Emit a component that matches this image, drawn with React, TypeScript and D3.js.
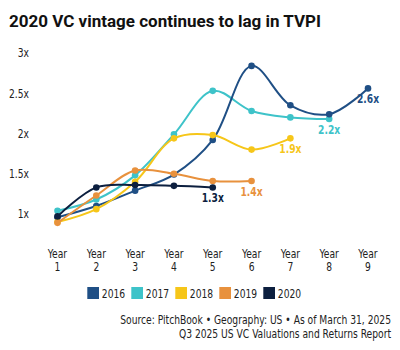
import React from 'react';
import * as d3 from 'd3';

const years = [1, 2, 3, 4, 5, 6, 7, 8, 9];
const yTicks = [1, 1.5, 2, 2.5, 3];
const vintages = ['2016', '2017', '2018', '2019', '2020'];
const colors = ['#1f4f85', '#3ec3c9', '#f6c619', '#e8913d', '#0c1f3f'];

const tvpi2016 = [0.96, 1.1, 1.29, 1.49, 1.92, 2.84, 2.35, 2.24, 2.56];
const tvpi2017 = [1.04, 1.18, 1.48, 1.99, 2.53, 2.28, 2.2, 2.18];
const tvpi2018 = [0.9, 1.06, 1.4, 1.94, 1.98, 1.8, 1.94];
const tvpi2019 = [0.89, 1.23, 1.54, 1.5, 1.41, 1.41];
const tvpi2020 = [0.97, 1.33, 1.36, 1.35, 1.33];
const endLabels = ['2.6x', '2.2x', '1.9x', '1.4x', '1.3x'];

const series = [tvpi2016, tvpi2017, tvpi2018, tvpi2019, tvpi2020];

const condensed = '"DejaVu Sans Condensed", "DejaVu Sans", sans-serif';

// narrow text: squeeze DejaVu Condensed a bit more to get close to the original's condensed face
function NText(props: any) {
	const { x, y, anchor = 'start', children, ...rest } = props;
	return (
		<g transform={`translate(${x},${y}) scale(0.85,1)`}>
			<text textAnchor={anchor} fontFamily={condensed} fontSize={12} fill="#222" {...rest}>
				{children}
			</text>
		</g>
	);
}

export default function App() {
	const width = 400;
	const height = 350;

	const x = d3.scalePoint<number>().domain(years).range([57.5, 368]);
	const y = d3.scaleLinear().domain([1, 3]).range([214, 53]);

	const line = d3
		.line<number>()
		.x((d, i) => x(years[i]) as number)
		.y(d => y(d))
		.curve(d3.curveCatmullRom.alpha(0.5));

	// draw newest vintage last so it sits on top
	const order = [1, 0, 2, 3, 4];

	return (
		<svg width={width} height={height} style={{ position: 'absolute', left: 0, top: 0, background: '#fff' }}>
			<text x={9} y={26.5} fontFamily="Roboto, sans-serif" fontWeight="bold" fontSize={17} fill="#111">
				2020 VC vintage continues to lag in TVPI
			</text>

			{yTicks.map(t => (
				<NText key={t} x={29} y={y(t) + 4.3} anchor="end">
					{t}x
				</NText>
			))}

			{years.map(yr => (
				<g key={yr}>
					<NText x={x(yr)} y={258} anchor="middle">Year</NText>
					<NText x={x(yr)} y={271} anchor="middle">{yr}</NText>
				</g>
			))}

			{order.map(i => (
				<g key={vintages[i]}>
					<path d={line(series[i]) || ''} fill="none" stroke={colors[i]} strokeWidth={2} />
					{series[i].map((v, j) => (
						<circle key={j} cx={x(years[j])} cy={y(v)} r={3.3} fill={colors[i]} />
					))}
				</g>
			))}

			{series.map((s, i) => (
				<NText
					key={i}
					x={x(years[s.length - 1])}
					y={y(s[s.length - 1]) + 15}
					anchor="middle"
					fontWeight="bold"
					fill={colors[i]}
				>
					{endLabels[i]}
				</NText>
			))}

			{vintages.map((v, i) => (
				<g key={v} transform={`translate(${87.3 + i * 44},287)`}>
					<rect width={11.7} height={12} fill={colors[i]} />
					<NText x={14.5} y={10.5}>{v}</NText>
				</g>
			))}

			<NText x={391} y={324} anchor="end">
				Source: PitchBook • Geography: US • As of March 31, 2025
			</NText>
			<NText x={391} y={337.5} anchor="end">
				Q3 2025 US VC Valuations and Returns Report
			</NText>
		</svg>
	);
}
